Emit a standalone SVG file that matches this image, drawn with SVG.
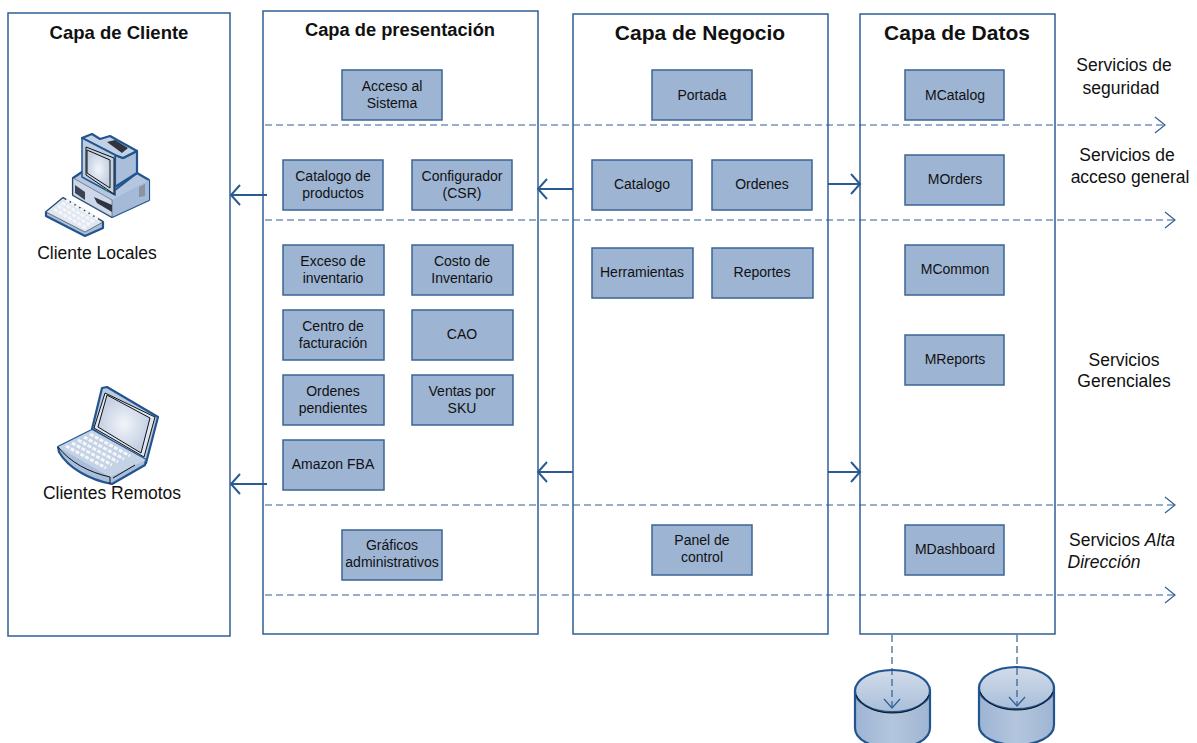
<svg xmlns="http://www.w3.org/2000/svg" width="1197" height="743" viewBox="0 0 1197 743">
<style>
text{font-family:"Liberation Sans",Arial,sans-serif;fill:#111}
.panel{fill:#fff;stroke:#2f5f97;stroke-width:1.5}
.box{fill:#9db4d3;stroke:#3a6496;stroke-width:1.5}
.bt{font-size:14px;text-anchor:middle}
.title{font-weight:700;text-anchor:middle}
.side{font-size:17.500px;text-anchor:middle}
.solid{fill:none;stroke:#2a5a94;stroke-width:2}
.dash{fill:none;stroke:#2f5f97;stroke-width:1.2;stroke-dasharray:7 4}
.head{fill:none;stroke:#2f5f97;stroke-width:1.2}
.out{stroke:#22548f;stroke-width:2.2;stroke-linejoin:round}
.ink{fill:none;stroke:#111;stroke-width:1}
.key{fill:none;stroke:#f4f6fa;stroke-width:3;stroke-dasharray:4 1.500}
</style>
<defs>
<linearGradient id="cyl" x1="0" y1="0" x2="0" y2="1"><stop offset="0" stop-color="#d2dcea"/><stop offset="1" stop-color="#a9bed9"/></linearGradient>
<linearGradient id="side" x1="0" y1="0" x2="1" y2="0"><stop offset="0" stop-color="#9db4d4"/><stop offset=".5" stop-color="#b4c6de"/><stop offset="1" stop-color="#9fb5d3"/></linearGradient>
<radialGradient id="scr"><stop offset="0" stop-color="#f2f5fa"/><stop offset="1" stop-color="#c3cfe2"/></radialGradient>
<g id="db">
<path class="out" fill="url(#side)" d="M0 20V58C0 70 17 78 37.500 78S75 70 75 58V20Z"/>
<ellipse class="out" cx="37.500" cy="21" rx="37.500" ry="21" fill="url(#cyl)"/>
<path class="ink" d="M1 25C6 36 20 43 37.500 43S69 36 74 25"/>
</g>
</defs>
<g id="capa-cliente"><rect class="panel" x="8" y="13" width="222" height="623"/><text class="title" x="119" y="39" font-size="18.500">Capa de Cliente</text></g>
<g id="capa-presentacion"><rect class="panel" x="263" y="11" width="275" height="623"/><text class="title" x="400" y="36" font-size="18.300">Capa de presentación</text></g>
<g id="capa-negocio"><rect class="panel" x="573" y="14" width="255" height="620"/><text class="title" x="700" y="40" font-size="21">Capa de Negocio</text></g>
<g id="capa-datos"><rect class="panel" x="860" y="14" width="195" height="620"/><text class="title" x="957" y="40" font-size="21">Capa de Datos</text></g>

<g id="cliente-local">
<path class="out" fill="#b4c7df" d="M73 178L82 172 115 190 137 173 149 180V200L112 217 73 195Z"/>
<path d="M73 178L112 200 149 180V200L112 217 73 195Z" fill="#a4bad8"/>
<path d="M73 178L112 200V217L73 195Z" fill="#ccd8e9" stroke="#111" stroke-width=".4"/>
<path class="out" fill="#a9bedb" d="M115 155L123 158 137 151V173L115 187Z"/>
<path class="out" fill="#c3d1e5" d="M82 138L92 134 100 139 110 136 137 151 123 158 115 155Z"/>
<path d="M82 138L115 155V195L82 177Z" fill="#bccce2" stroke="#22548f" stroke-width="1.500"/>
<path d="M86 147L114 158V194L86 175Z" fill="#c5d2e5" stroke="#111" stroke-width="1"/>
<path d="M87 150L110 160V188L87 173Z" fill="url(#scr)" stroke="#111" stroke-width="1"/>
<path d="M107 142L115 140 128 148 122 153Z" fill="#2f3440"/>
<path d="M75 185L85 192V200L75 193Z" fill="#3c4250"/>
<path d="M94 197L112 205V212L97 203Z" fill="#2f3440"/>
<path d="M139 187L145 184V196L139 197Z" fill="#8a93a0"/>
<circle cx="106" cy="190" r="1.300" fill="#3f8f55"/>
<path class="out" fill="#a9bedb" d="M46 212L63 198 103 222V228L85 236 46 216Z"/>
<path d="M46 212L63 198 103 222 85 232Z" fill="#dfe7f2" stroke="#111" stroke-width=".5"/>
<path class="key" d="M54 209L86 228M58 206L90 225M62 203L94 222M66 200L98 219"/>
<text x="97" y="259" font-size="17.500" text-anchor="middle">Cliente Locales</text>
</g>
<g id="cliente-remoto">
<path class="out" fill="#b9cbe2" d="M102 388L107 387 158 417 146 463 92 429Z"/>
<path d="M105 393L155 417 144 457 94 428Z" fill="#dfe6f1" stroke="#111" stroke-width="1"/>
<path d="M107 395L150 418 141 453 98 427Z" fill="url(#scr)" stroke="#111" stroke-width="1"/>
<path class="out" fill="#a9bedb" d="M58 447L92 430 146 460 145 465 112 484C90 480 68 468 59 452Z"/>
<path d="M58 447L92 430 146 460 110 477Z" fill="#c4d2e6"/>
<path class="key" d="M66 446L106 468M72 443L112 465M78 440L118 462M84 437L124 459M90 434L130 456"/>
<path d="M58 447C70 462 88 472 110 477V484" class="ink"/>
<path d="M113 478L135 465" class="ink"/>
<text x="112" y="499" font-size="17.500" text-anchor="middle">Clientes Remotos</text>
</g>

<g id="acceso"><rect class="box" x="342" y="70" width="100" height="50"/><text class="bt" x="392" y="91">Acceso al</text><text class="bt" x="392" y="108">Sistema</text></g>
<g id="catalogo-productos"><rect class="box" x="283" y="160" width="100" height="50"/><text class="bt" x="333" y="181">Catalogo de</text><text class="bt" x="333" y="198">productos</text></g>
<g id="configurador"><rect class="box" x="412" y="160" width="100" height="50"/><text class="bt" x="462" y="181">Configurador</text><text class="bt" x="462" y="198">(CSR)</text></g>
<g id="exceso"><rect class="box" x="283" y="245" width="101" height="50"/><text class="bt" x="333" y="266">Exceso de</text><text class="bt" x="333" y="283">inventario</text></g>
<g id="costo"><rect class="box" x="412" y="245" width="101" height="50"/><text class="bt" x="462" y="266">Costo de</text><text class="bt" x="462" y="283">Inventario</text></g>
<g id="centro"><rect class="box" x="283" y="310" width="101" height="50"/><text class="bt" x="333" y="331">Centro de</text><text class="bt" x="333" y="348">facturación</text></g>
<g id="cao"><rect class="box" x="412" y="310" width="101" height="50"/><text class="bt" x="462" y="339">CAO</text></g>
<g id="ordenes-pend"><rect class="box" x="283" y="375" width="101" height="50"/><text class="bt" x="333" y="396">Ordenes</text><text class="bt" x="333" y="413">pendientes</text></g>
<g id="ventas"><rect class="box" x="412" y="375" width="101" height="50"/><text class="bt" x="462" y="396">Ventas por</text><text class="bt" x="462" y="413">SKU</text></g>
<g id="amazon"><rect class="box" x="283" y="440" width="101" height="50"/><text class="bt" x="333" y="469">Amazon FBA</text></g>
<g id="graficos"><rect class="box" x="342" y="530" width="100" height="50"/><text class="bt" x="392" y="550">Gráficos</text><text class="bt" x="392" y="567">administrativos</text></g>

<g id="portada"><rect class="box" x="652" y="70" width="100" height="50"/><text class="bt" x="702" y="100">Portada</text></g>
<g id="catalogo"><rect class="box" x="592" y="160" width="100" height="50"/><text class="bt" x="642" y="189">Catalogo</text></g>
<g id="ordenes"><rect class="box" x="712" y="160" width="100" height="50"/><text class="bt" x="762" y="189">Ordenes</text></g>
<g id="herramientas"><rect class="box" x="592" y="248" width="101" height="50"/><text class="bt" x="642" y="277">Herramientas</text></g>
<g id="reportes"><rect class="box" x="712" y="248" width="101" height="50"/><text class="bt" x="762" y="277">Reportes</text></g>
<g id="panel"><rect class="box" x="652" y="525" width="100" height="50"/><text class="bt" x="702" y="545">Panel de</text><text class="bt" x="702" y="562">control</text></g>

<g id="mcatalog"><rect class="box" x="905" y="70" width="99" height="50"/><text class="bt" x="955" y="100">MCatalog</text></g>
<g id="morders"><rect class="box" x="905" y="155" width="99" height="50"/><text class="bt" x="955" y="184">MOrders</text></g>
<g id="mcommon"><rect class="box" x="905" y="245" width="99" height="50"/><text class="bt" x="955" y="274">MCommon</text></g>
<g id="mreports"><rect class="box" x="905" y="335" width="99" height="50"/><text class="bt" x="955" y="364">MReports</text></g>
<g id="mdashboard"><rect class="box" x="905" y="525" width="99" height="50"/><text class="bt" x="955" y="554">MDashboard</text></g>

<g id="db1"><use href="#db" x="855" y="670"/></g>
<g id="db2"><use href="#db" x="979" y="667"/></g>

<g id="connectors">
<path class="dash" d="M265 125H1165M265 220H1175M265 505H1175M265 595H1175"/>
<path class="head" d="M1155 117L1165 125 1155 133M1165 212L1175 220 1165 228M1165 497L1175 505 1165 513M1165 587L1175 595 1165 603"/>
<path class="solid" d="M267 195H231M240 185L231 195 240 205M267 484H231M240 474L231 484 240 494M573 189H538M547 179L538 189 547 199M573 472H538M547 462L538 472 547 482M828 184H860M851 174L860 184 851 194M828 472H860M851 462L860 472 851 482"/>
<path class="dash" d="M892 635V707M1017 635V705"/>
<path class="head" d="M884 699L892 708 900 699M1009 697L1017 706 1025 697"/>
</g>

<g id="etiquetas">
<text class="side" x="1124" y="71">Servicios de</text><text class="side" x="1121" y="94">seguridad</text>
<text class="side" x="1127" y="161">Servicios de</text><text class="side" x="1130" y="183">acceso general</text>
<text class="side" x="1124" y="366">Servicios</text><text class="side" x="1124" y="387">Gerenciales</text>
<text class="side" x="1122" y="546">Servicios <tspan font-style="italic">Alta</tspan></text><text class="side" x="1104" y="568" font-style="italic">Dirección</text>
</g>
</svg>
